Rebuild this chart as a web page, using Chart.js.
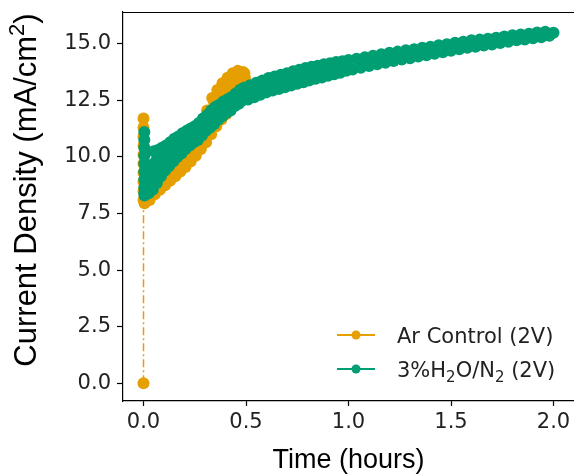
<!DOCTYPE html>
<html>
<head>
<meta charset="utf-8">
<script src="https://cdn.jsdelivr.net/npm/chart.js@4"></script>
<style>
  body { margin: 0; background: #fff; }
  #myChart { display: block; }
</style>
</head>
<body>
<canvas id="myChart" width="574" height="474"></canvas>
<script>
// Ar Control (2V): time in hours, current density in mA/cm2
const arTime = [0,
  0, 0, 0, 0, 0, 0, 0, 0, 0, 0,
  0.005, 0.010, 0.015, 0.020, 0.025, 0.030, 0.035, 0.040, 0.045, 0.050,
  0.055, 0.060, 0.065, 0.070, 0.075, 0.080, 0.085, 0.090, 0.095, 0.100,
  0.105, 0.110, 0.115, 0.120, 0.125, 0.130, 0.135, 0.140, 0.145, 0.150,
  0.155, 0.160, 0.165, 0.170, 0.175, 0.180, 0.185, 0.190, 0.195, 0.200,
  0.205, 0.210, 0.215, 0.220, 0.225, 0.230, 0.235, 0.240, 0.245, 0.250,
  0.255, 0.260, 0.265, 0.270, 0.275, 0.280, 0.285, 0.290, 0.295, 0.300,
  0.305, 0.310, 0.315, 0.320, 0.325, 0.330, 0.335, 0.340, 0.345, 0.350,
  0.355, 0.360, 0.365, 0.370, 0.375, 0.380, 0.385, 0.390, 0.395, 0.400,
  0.405, 0.410, 0.415, 0.420, 0.425, 0.430, 0.435, 0.440, 0.445, 0.450,
  0.455, 0.460, 0.465, 0.470, 0.475, 0.480, 0.485, 0.490, 0.492, 0.495]
const arCurrent = [0.0,
  11.7, 11.3, 10.9, 10.5, 10.1, 9.7, 9.3, 8.9, 8.5, 8.1,
  7.95, 9.0, 8.25, 8.85, 8.6, 8.1, 9.25, 8.45, 9.05, 8.85,
  8.35, 9.5, 8.7, 9.3, 9.05, 8.55, 9.7, 8.9, 9.5, 9.25,
  8.75, 9.9, 9.1, 9.7, 9.45, 8.95, 10.05, 9.3, 9.9, 9.65,
  9.15, 10.3, 9.5, 10.1, 9.85, 9.35, 10.5, 9.7, 10.3, 10.05,
  9.55, 10.7, 9.95, 10.55, 10.3, 9.8, 10.95, 10.2, 10.8, 10.55,
  10.05, 11.2, 10.45, 11.1, 10.85, 10.35, 11.55, 10.75, 11.45, 11.2,
  10.65, 12.05, 11.15, 11.95, 11.7, 11.0, 12.6, 11.55, 12.35, 12.05,
  11.35, 12.95, 11.85, 12.7, 12.35, 11.65, 13.25, 12.15, 12.95, 12.6,
  11.9, 13.5, 12.4, 13.2, 12.9, 12.2, 13.7, 12.7, 13.45, 13.15,
  12.55, 13.8, 12.95, 13.55, 13.3, 12.9, 13.75, 13.3, 13.7, 13.5]

// 3%H2O/N2 (2V)
const h2oTime = [
  0.004, 0.004, 0.004, 0.004, 0.004, 0.004, 0.004, 0.004, 0.004,
  0.005, 0.010, 0.015, 0.020, 0.025, 0.030, 0.035, 0.040, 0.045, 0.050,
  0.055, 0.060, 0.065, 0.070, 0.075, 0.080, 0.085, 0.090, 0.095, 0.100,
  0.105, 0.110, 0.115, 0.120, 0.125, 0.130, 0.135, 0.140, 0.145, 0.150,
  0.155, 0.160, 0.165, 0.170, 0.175, 0.180, 0.185, 0.190, 0.195, 0.200,
  0.205, 0.210, 0.215, 0.220, 0.225, 0.230, 0.235, 0.240, 0.245, 0.250,
  0.255, 0.260, 0.265, 0.270, 0.275, 0.280, 0.285, 0.290, 0.295, 0.300,
  0.305, 0.310, 0.315, 0.320, 0.325, 0.330, 0.335, 0.340, 0.345, 0.350,
  0.355, 0.360, 0.365, 0.370, 0.375, 0.380, 0.385, 0.390, 0.395, 0.400,
  0.405, 0.410, 0.415, 0.420, 0.425, 0.430, 0.435, 0.440, 0.445, 0.450,
  0.455, 0.460, 0.465, 0.470, 0.475, 0.480, 0.485, 0.490, 0.495, 0.500,
  0.51, 0.52, 0.53, 0.54, 0.55, 0.56, 0.57, 0.58, 0.59, 0.60,
  0.61, 0.62, 0.63, 0.64, 0.65, 0.66, 0.67, 0.68, 0.69, 0.70,
  0.71, 0.72, 0.73, 0.74, 0.75, 0.76, 0.77, 0.78, 0.79, 0.80,
  0.81, 0.82, 0.83, 0.84, 0.85, 0.86, 0.87, 0.88, 0.89, 0.90,
  0.91, 0.92, 0.93, 0.94, 0.95, 0.96, 0.97, 0.98, 0.99, 1.00,
  1.02, 1.04, 1.06, 1.08, 1.10, 1.12, 1.14, 1.16, 1.18, 1.20,
  1.22, 1.24, 1.26, 1.28, 1.30, 1.32, 1.34, 1.36, 1.38, 1.40,
  1.42, 1.44, 1.46, 1.48, 1.50, 1.52, 1.54, 1.56, 1.58, 1.60,
  1.62, 1.64, 1.66, 1.68, 1.70, 1.72, 1.74, 1.76, 1.78, 1.80,
  1.82, 1.84, 1.86, 1.88, 1.90, 1.92, 1.94, 1.96, 1.98, 2.00]
const h2oCurrent = [
  11.1, 10.75, 10.4, 10.05, 9.7, 9.35, 9.0, 8.65, 8.4,
  8.3, 9.1, 8.6, 9.0, 8.4, 9.6, 9.0, 9.65, 8.55, 10.25,
  9.2, 9.8, 8.85, 10.3, 9.45, 9.9, 9.15, 10.4, 9.65, 10.1,
  9.4, 10.5, 9.85, 10.25, 9.6, 10.65, 10.05, 10.4, 9.8, 10.8,
  10.2, 10.55, 10.0, 10.9, 10.35, 10.7, 10.15, 11.05, 10.55, 10.85,
  10.35, 11.15, 10.65, 10.95, 10.5, 11.25, 10.8, 11.05, 10.65, 11.35,
  10.9, 11.15, 10.75, 11.5, 11.1, 11.35, 10.95, 11.7, 11.3, 11.55,
  11.15, 11.85, 11.45, 11.7, 11.3, 12.05, 11.6, 11.9, 11.45, 12.2,
  11.8, 12.05, 11.65, 12.3, 11.9, 12.2, 11.8, 12.45, 12.1, 12.3,
  11.95, 12.55, 12.2, 12.4, 12.05, 12.65, 12.35, 12.55, 12.25, 12.8,
  12.45, 12.7, 12.35, 12.95, 12.6, 12.8, 12.5, 13.05, 12.7, 12.9,
  12.54, 13.17, 12.91, 12.64, 13.28, 13.01, 12.75, 13.38, 13.12, 12.85,
  13.48, 13.2, 12.93, 13.55, 13.28, 13.0, 13.63, 13.35, 13.08, 13.7,
  13.43, 13.15, 13.78, 13.5, 13.23, 13.85, 13.58, 13.3, 13.93, 13.65,
  13.38, 13.98, 13.71, 13.45, 14.03, 13.77, 13.51, 14.09, 13.83, 13.58,
  14.14, 13.89, 13.65, 14.19, 13.95, 13.72, 14.23, 14.01, 13.8, 14.28,
  13.86, 14.34, 13.94, 14.4, 14.01, 14.47, 14.09, 14.53, 14.16, 14.6,
  14.24, 14.65, 14.3, 14.71, 14.36, 14.76, 14.43, 14.82, 14.49, 14.87,
  14.56, 14.93, 14.62, 14.98, 14.69, 15.04, 14.75, 15.09, 14.82, 15.15,
  14.87, 15.18, 14.92, 15.22, 14.96, 15.26, 15.03, 15.32, 15.09, 15.37,
  15.15, 15.41, 15.19, 15.44, 15.24, 15.49, 15.29, 15.53, 15.35, 15.48]

const xTicks = [0, 0.5, 1.0, 1.5, 2.0]
const yTicks = [0, 2.5, 5.0, 7.5, 10.0, 12.5, 15.0]
const xTitle = 'Time (hours)'
const yTitle = 'Current Density (mA/cm'
const seriesNames = ['Ar Control (2V)', '3%H2O/N2 (2V)']

const orange = '#E69F00'
const green = '#009E73'

function toPoints(xs, ys) {
  return xs.map((x, i) => ({x: x, y: ys[i]}))
}

function noPadding(s) {
  s.paddingTop = 0
  s.paddingBottom = 0
  s.paddingLeft = 0
  s.paddingRight = 0
}

// draws the top spine, both axis titles and the legend by hand
const extras = {
  id: 'extras',
  afterDraw(chart) {
    const ctx = chart.ctx
    const a = chart.chartArea
    ctx.save()
    ctx.strokeStyle = '#000'
    ctx.lineWidth = 1.2
    ctx.beginPath()
    ctx.moveTo(a.left, a.top + 0.5)
    ctx.lineTo(a.right, a.top + 0.5)
    ctx.stroke()

    ctx.fillStyle = '#000'
    ctx.font = '27px "Liberation Sans", Arial, sans-serif'
    ctx.textAlign = 'center'
    ctx.textBaseline = 'alphabetic'
    ctx.fillText(xTitle, (a.left + a.right) / 2, 468)

    // y title with superscript 2
    const fs = 31
    const f1 = fs + 'px "Liberation Sans", Arial, sans-serif'
    const f2 = Math.round(fs * 0.7) + 'px "Liberation Sans", Arial, sans-serif'
    ctx.font = f1
    const w1 = ctx.measureText(yTitle).width
    const w3 = ctx.measureText(')').width
    ctx.font = f2
    const w2 = ctx.measureText('2').width
    const total = w1 + w2 + w3
    ctx.translate(36, 190)
    ctx.rotate(-Math.PI / 2)
    ctx.textAlign = 'left'
    const x0 = -total / 2
    ctx.font = f1
    ctx.fillText(yTitle, x0, 0)
    ctx.font = f2
    ctx.fillText('2', x0 + w1, -fs * 0.38)
    ctx.font = f1
    ctx.fillText(')', x0 + w1 + w2, 0)
    ctx.setTransform(1, 0, 0, 1, 0, 0)

    // legend
    const rows = [{y: 335, c: orange}, {y: 369, c: green}]
    rows.forEach(r => {
      ctx.strokeStyle = r.c
      ctx.lineWidth = 2
      ctx.beginPath()
      ctx.moveTo(337, r.y)
      ctx.lineTo(375, r.y)
      ctx.stroke()
      ctx.fillStyle = r.c
      ctx.beginPath()
      ctx.arc(356, r.y, 4.5, 0, Math.PI * 2)
      ctx.fill()
    })
    ctx.fillStyle = '#222'
    ctx.textAlign = 'left'
    ctx.textBaseline = 'alphabetic'
    const big = '21px "DejaVu Sans", sans-serif'
    const small = '15px "DejaVu Sans", sans-serif'
    ctx.font = big
    ctx.fillText(seriesNames[0], 397, rows[0].y + 7.5)
    // second label: 3%H2O/N2 (2V) with subscripts
    const parts = [['3%H', big, 0], ['2', small, 5], ['O/N', big, 0], ['2', small, 5], [' (2V)', big, 0]]
    let px = 397
    parts.forEach(p => {
      ctx.font = p[1]
      ctx.fillText(p[0], px, rows[1].y + 7.5 + p[2])
      px += ctx.measureText(p[0]).width
    })
    ctx.restore()
  }
}

Chart.defaults.font.family = '"DejaVu Sans", sans-serif'

const ctx = document.getElementById('myChart')
const myChart = new Chart(ctx, {
  type: 'scatter',
  data: {
    datasets: [{
      label: seriesNames[0],
      data: toPoints(arTime, arCurrent),
      showLine: true,
      borderColor: orange,
      borderWidth: 1.5,
      borderDash: [8, 3, 2, 3],
      backgroundColor: orange,
      pointBackgroundColor: orange,
      pointBorderWidth: 0,
      pointRadius: 6,
      order: 1
    }, {
      label: seriesNames[1],
      data: toPoints(h2oTime, h2oCurrent),
      showLine: true,
      borderColor: green,
      borderWidth: 1.5,
      backgroundColor: green,
      pointBackgroundColor: green,
      pointBorderWidth: 0,
      pointRadius: 6,
      order: 0
    }]
  },
  options: {
    responsive: false,
    animation: false,
    devicePixelRatio: 1,
    layout: {autoPadding: false, padding: {top: 12, right: 0, bottom: 0, left: 0}},
    plugins: {
      legend: {display: false},
      tooltip: {enabled: false}
    },
    scales: {
      x: {
        type: 'linear',
        min: -0.1,
        max: 2.1,
        afterBuildTicks: s => { s.ticks = xTicks.map(v => ({value: v})) },
        afterFit: s => { s.height = 73; noPadding(s) },
        grid: {drawOnChartArea: false, drawTicks: true, tickLength: 5, tickColor: '#000', tickWidth: 1.2},
        border: {color: '#000', width: 1.2},
        ticks: {font: {size: 21}, color: '#222', padding: 4, maxRotation: 0, autoSkip: false,
                callback: v => Number(v).toFixed(1)}
      },
      y: {
        type: 'linear',
        min: -0.78,
        max: 16.4,
        afterBuildTicks: s => { s.ticks = yTicks.map(v => ({value: v})) },
        afterFit: s => { s.width = 123; noPadding(s) },
        grid: {drawOnChartArea: false, drawTicks: true, tickLength: 6, tickColor: '#000', tickWidth: 1.2},
        border: {color: '#000', width: 1.2},
        ticks: {font: {size: 21}, color: '#222', padding: 6, autoSkip: false,
                callback: v => Number(v).toFixed(1)}
      }
    }
  },
  plugins: [extras]
})
</script>
</body>
</html>
